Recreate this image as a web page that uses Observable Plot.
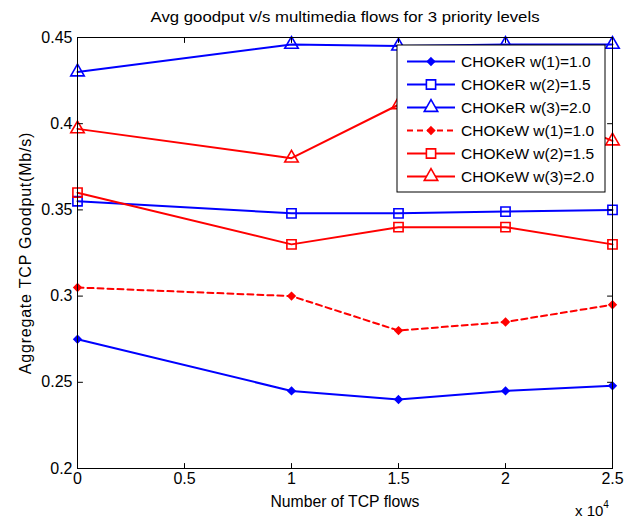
<!DOCTYPE html>
<html>
<head>
<meta charset="utf-8">
<script src="https://cdn.jsdelivr.net/npm/d3@7"></script>
<script src="https://cdn.jsdelivr.net/npm/@observablehq/plot@0.6"></script>
<style>
  html, body { margin: 0; padding: 0; background: #fff; }
  #chart svg { display: block; }
</style>
</head>
<body>
<div id="chart"></div>
<script>
// ---- data ----
const flows = [0, 10000, 15000, 20000, 25000];
const chokerW1 = [0.275, 0.245, 0.240, 0.245, 0.248];
const chokerW2 = [0.355, 0.348, 0.348, 0.349, 0.350];
const chokerW3 = [0.430, 0.446, 0.445, 0.446, 0.446];
const chokewW1 = [0.305, 0.300, 0.280, 0.285, 0.295];
const chokewW2 = [0.360, 0.330, 0.340, 0.340, 0.330];
const chokewW3 = [0.397, 0.380, 0.411, 0.415, 0.390];

const seriesNames = ["CHOKeR w(1)=1.0", "CHOKeR w(2)=1.5", "CHOKeR w(3)=2.0",
                     "CHOKeW w(1)=1.0", "CHOKeW w(2)=1.5", "CHOKeW w(3)=2.0"];
const seriesValues = [chokerW1, chokerW2, chokerW3, chokewW1, chokewW2, chokewW3];
const seriesColors = ["#0000ff", "#0000ff", "#0000ff", "#ff0000", "#ff0000", "#ff0000"];
const seriesSymbols = ["diamond2", "square", "triangle", "diamond2", "square", "triangle"];
const seriesDash = [null, null, null, "6,4", null, null];

const xTicks = [0, 5000, 10000, 15000, 20000, 25000];
const yTicks = [0.2, 0.25, 0.3, 0.35, 0.4, 0.45];

const titleText = "Avg goodput v/s multimedia flows for 3 priority levels";
const xLabel = "Number of TCP flows";
const yLabel = "Aggregate TCP Goodput(Mb/s)";

// ---- build ----
const FONT = "'Liberation Sans', Arial, Helvetica, sans-serif";
const symbolR = {diamond2: 3.2, square: 5.2, triangle: 5.0};
const symbolFill = {diamond2: true, square: false, triangle: false};
const tickShape = {draw(context, l) { context.moveTo(0, 0); context.lineTo(0, -l); }};

const rows = [];
seriesNames.forEach((name, s) => {
  flows.forEach((f, i) => rows.push({series: name, s, x: f, y: seriesValues[s][i]}));
});

const marks = [];
seriesNames.forEach((name, s) => {
  const data = rows.filter(d => d.s === s);
  marks.push(Plot.line(data, {x: "x", y: "y", stroke: seriesColors[s], strokeWidth: 2,
    strokeDasharray: seriesDash[s] || undefined, strokeLinejoin: "miter"}));
  const sym = seriesSymbols[s];
  marks.push(Plot.dot(data, {x: "x", y: "y", symbol: sym, r: symbolR[sym],
    stroke: seriesColors[s], strokeWidth: 1.6,
    fill: symbolFill[sym] ? seriesColors[s] : "none"}));
});

const tickOpts = {length: 5, anchor: "start", shape: tickShape, stroke: "#000", strokeWidth: 1};
const chart = Plot.plot({
  width: 636, height: 521,
  marginLeft: 77, marginRight: 24, marginTop: 37, marginBottom: 53,
  style: {fontFamily: FONT, fontSize: "16px", color: "#000", background: "#fff"},
  x: {domain: [0, 25000], axis: null},
  y: {domain: [0.2, 0.45], axis: null},
  marks: [
    ...marks,
    Plot.frame({stroke: "#000", strokeWidth: 1}),
    // tick labels
    Plot.axisX({anchor: "bottom", ticks: xTicks, tickSize: 0, tickPadding: 4,
      tickFormat: d => String(d / 10000), fontSize: 16, label: null}),
    Plot.axisY({anchor: "left", ticks: yTicks, tickSize: 0, tickPadding: 5,
      tickFormat: d => String(d), fontSize: 16, label: null}),
    // inward tick marks on all four sides
    Plot.vector(xTicks, {x: d => d, frameAnchor: "bottom", rotate: 0, ...tickOpts}),
    Plot.vector(xTicks, {x: d => d, frameAnchor: "top", rotate: 180, ...tickOpts}),
    Plot.vector(yTicks, {y: d => d, frameAnchor: "left", rotate: 90, ...tickOpts}),
    Plot.vector(yTicks, {y: d => d, frameAnchor: "right", rotate: -90, ...tickOpts}),
    // title and axis labels
    Plot.text([titleText], {text: d => d, frameAnchor: "top", lineAnchor: "middle",
      textAnchor: "middle", dy: -20, fontSize: 15}),
    Plot.text([xLabel], {text: d => d, frameAnchor: "bottom", lineAnchor: "middle",
      textAnchor: "middle", dy: 33, fontSize: 16}),
    Plot.text([yLabel], {text: d => d, frameAnchor: "left", lineAnchor: "middle",
      textAnchor: "middle", dx: -52, rotate: -90, fontSize: 16})
  ]
});
document.getElementById("chart").appendChild(chart);

const svg = d3.select(chart);
// match the reference's text extents
const stretch = {[titleText]: 389, [xLabel]: 149};
svg.selectAll("text").each(function () {
  const L = stretch[this.textContent];
  if (L) d3.select(this).attr("textLength", L).attr("lengthAdjust", "spacingAndGlyphs");
  if (this.textContent === yLabel) d3.select(this).style("letter-spacing", "0.8px");
});

// ---- exponent label and legend (drawn over the plot) ----
const expo = svg.append("text")
  .attr("x", 575).attr("y", 516).attr("text-anchor", "start")
  .attr("font-family", FONT).attr("font-size", 15).attr("fill", "#000");
expo.append("tspan").text("x 10");
expo.append("tspan").attr("dy", -8).attr("font-size", 10).text("4");

const lg = svg.append("g");
const lx = 397, ly = 45, lw = 208, lh = 147;
lg.append("rect").attr("x", lx).attr("y", ly).attr("width", lw).attr("height", lh)
  .attr("fill", "#fff").attr("stroke", "#000").attr("stroke-width", 1);
seriesNames.forEach((name, s) => {
  const y = 61.5 + s * 23;
  lg.append("line").attr("x1", 407).attr("x2", 455).attr("y1", y).attr("y2", y)
    .attr("stroke", seriesColors[s]).attr("stroke-width", 2)
    .attr("stroke-dasharray", seriesDash[s]);
  const sym = seriesSymbols[s];
  const d3sym = {diamond2: d3.symbolDiamond2, square: d3.symbolSquare, triangle: d3.symbolTriangle}[sym];
  lg.append("path")
    .attr("d", d3.symbol(d3sym, Math.PI * symbolR[sym] ** 2)())
    .attr("transform", `translate(431,${y})`)
    .attr("fill", symbolFill[sym] ? seriesColors[s] : "#fff")
    .attr("stroke", seriesColors[s]).attr("stroke-width", 1.6);
  lg.append("text").attr("x", 461).attr("y", y).attr("dy", "0.35em")
    .attr("text-anchor", "start")
    .attr("font-family", FONT).attr("font-size", 15.5).attr("fill", "#000")
    .text(name);
});
</script>
</body>
</html>
